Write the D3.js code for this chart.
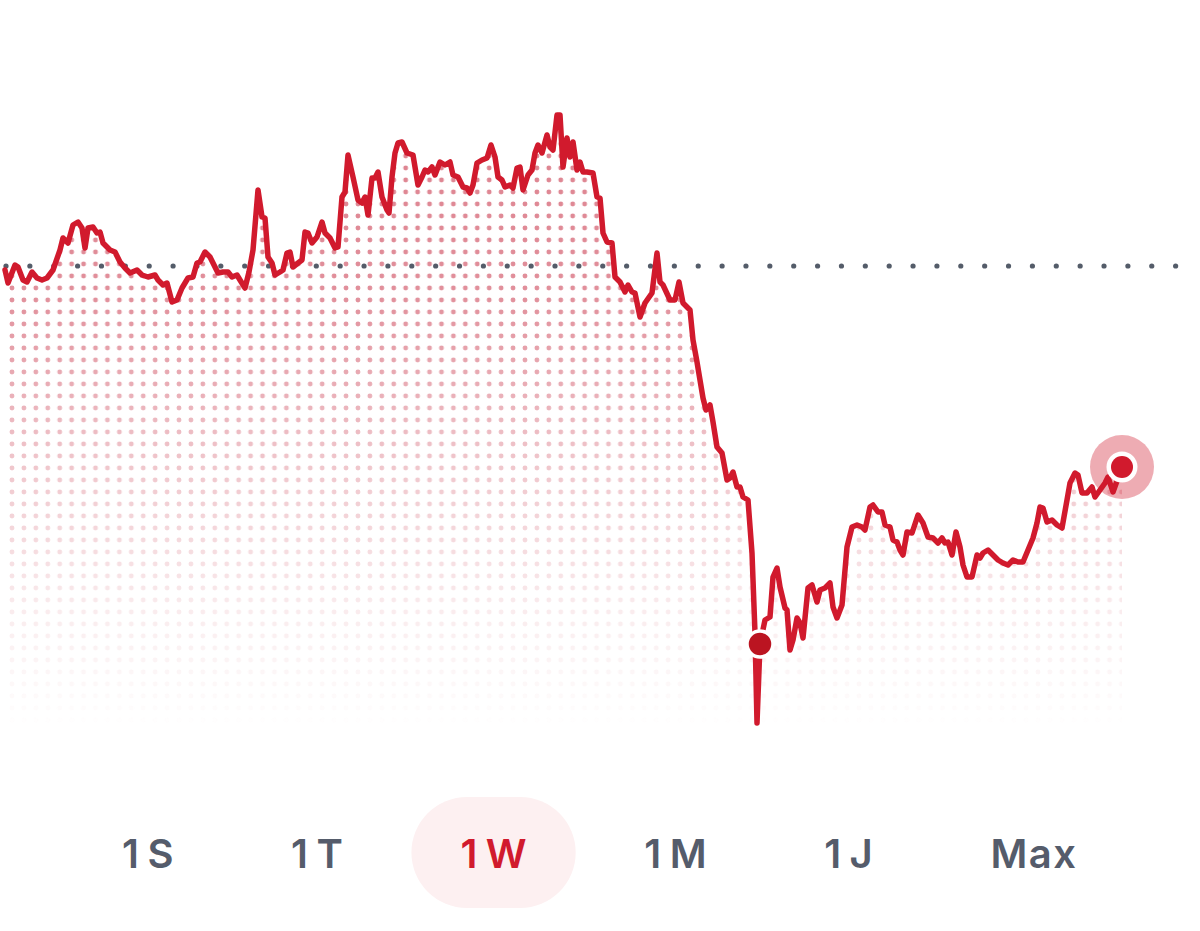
<!DOCTYPE html>
<html>
<head>
<meta charset="utf-8">
<script src="https://cdn.jsdelivr.net/npm/d3@7"></script>
<style>
  html, body { margin: 0; background: #fff; }
  svg { display: block; }
</style>
</head>
<body>
<svg id="chart" width="1200" height="931"></svg>
<script>
// price series: [time step, price]
const points = [
  [0,99.6],[3,98.3],[10,100.1],[13,99.9],[18,98.6],[22,98.4],[27,99.4],[32,98.8],[37,98.6],[42,98.8],
  [48,99.6],[55,101.6],[58,102.8],[63,102.3],[68,104.1],[73,104.4],[77,103.8],[80,101.8],[83,103.8],[88,103.9],
  [92,103.3],[95,103.4],[98,102.3],[105,101.6],[110,101.4],[115,100.4],[120,99.8],[125,99.3],[132,99.6],[137,99.1],
  [143,98.9],[150,99.1],[153,98.6],[158,98.1],[162,98.3],[167,96.4],[172,96.6],[177,97.8],[183,98.8],[188,98.9],
  [192,100.3],[195,100.4],[200,101.4],[205,100.9],[210,99.9],[213,99.3],[218,99.4],[223,99.4],[227,98.9],[232,99.1],
  [235,98.6],[240,97.8],[244,99.4],[248,101.6],[253,107.6],[257,104.9],[260,104.8],[263,100.9],[267,100.3],[270,99.1],
  [275,99.4],[278,99.6],[282,101.3],[285,101.4],[288,99.9],[293,100.3],[297,100.6],[300,103.4],[303,103.3],[307,102.3],
  [312,102.9],[317,104.4],[320,103.3],[325,102.8],[330,101.8],[333,101.9],[337,106.9],[340,107.4],[343,111.1],[348,108.9],
  [353,106.6],[357,106.3],[360,106.9],[363,105.1],[367,108.8],[370,108.8],[373,109.4],[377,106.9],[382,105.6],[384,105.3],
  [387,108.9],[390,111.3],[393,112.3],[397,112.4],[402,111.3],[408,111.1],[413,108.1],[417,108.9],[420,109.6],[423,109.4],
  [427,109.9],[430,109.1],[435,110.4],[440,110.1],[445,110.4],[448,109.1],[453,108.9],[458,107.9],[462,107.8],[465,107.3],
  [468,108.1],[472,110.3],[477,110.6],[482,110.8],[486,112.1],[490,110.9],[493,108.9],[497,108.6],[500,107.9],[505,108.1],
  [508,107.8],[512,109.8],[515,109.9],[518,107.6],[523,109.1],[527,109.6],[530,111.3],[533,112.1],[537,111.3],[542,113.1],
  [545,111.9],[548,111.6],[552,115.1],[555,115.1],[558,109.9],[562,112.8],[565,110.9],[568,112.4],[572,109.6],[575,110.4],
  [578,109.4],[582,109.4],[588,109.3],[592,106.9],[595,106.8],[598,103.3],[602,102.4],[607,102.3],[610,98.9],[615,98.4],
  [620,97.4],[623,98.1],[627,97.4],[630,97.3],[635,94.9],[640,96.3],[647,97.3],[652,101.3],[655,98.4],[658,98.1],
  [665,96.6],[670,96.6],[674,98.4],[678,96.3],[685,95.6],[688,92.6],[692,90.4],[695,88.6],[698,86.8],[701,85.6],
  [705,86.1],[708,84.4],[712,81.9],[717,81.3],[722,78.6],[725,78.8],[728,79.4],[732,77.9],[735,77.9],[738,76.9],
  [743,76.6],[747,71.3],[750,63.3],[752,54.3],[755,62.2],[760,64.6],[765,64.9],[768,68.9],[772,69.8],[775,67.9],
  [780,65.8],[782,65.6],[785,61.6],[788,62.6],[792,64.8],[795,64.3],[798,62.8],[803,67.8],[807,68.1],[812,66.4],
  [815,67.6],[820,67.8],[825,68.3],[828,65.9],[832,64.8],[837,66.1],[842,71.9],[847,73.9],[852,74.1],[857,73.9],
  [860,73.6],[865,75.9],[868,76.1],[873,75.4],[877,75.4],[880,74.1],[885,73.9],[888,72.6],[892,72.4],[895,71.6],
  [898,71.1],[902,73.4],[907,73.3],[913,75.1],[918,74.3],[923,72.9],[928,72.8],[933,72.3],[937,72.8],[940,72.3],
  [943,72.4],[947,71.1],[951,73.4],[955,71.9],[958,70.1],[962,68.9],[967,68.9],[972,71.1],[975,70.8],[978,71.3],
  [983,71.6],[988,71.1],[993,70.6],[998,70.3],[1003,70.1],[1008,70.6],[1013,70.4],[1018,70.4],[1023,71.6],[1028,72.8],
  [1032,74.3],[1035,75.9],[1038,75.8],[1042,74.4],[1047,74.6],[1052,74.1],[1057,73.8],[1062,76.6],[1065,78.3],[1070,79.3],
  [1073,79.1],[1077,77.3],[1082,77.3],[1087,77.9],[1090,76.9],[1095,77.6],[1100,78.3],[1103,78.9],[1108,77.4],[1117,79.9]
];
const previousClose = 100;
const markerTime = 755;              // highlighted trade point
const tabLabels = ["1S", "1T", "1W", "1M", "1J", "Max"];
const activeTab = "1W";

const red = "#d11a2d";
const svg = d3.select("#chart");

const x = d3.scaleLinear().domain([0, 1117]).range([5, 1122]);
const y = d3.scaleLinear().domain([40, 120]).range([866, 66]);
const bottomY = 730;

const defs = svg.append("defs");

// dot pattern for the area
const pat = defs.append("pattern")
  .attr("id", "dots")
  .attr("patternUnits", "userSpaceOnUse")
  .attr("x", 6.035).attr("y", -6)
  .attr("width", 11.93).attr("height", 12);
pat.append("circle")
  .attr("cx", 5.965).attr("cy", 6).attr("r", 2.45)
  .attr("fill", "#dd818e");

// fade out towards the bottom
const grad = defs.append("linearGradient")
  .attr("id", "fade")
  .attr("gradientUnits", "userSpaceOnUse")
  .attr("x1", 0).attr("x2", 0).attr("y1", 110).attr("y2", bottomY);
[[0, 1], [0.3, 0.88], [0.55, 0.48], [0.8, 0.16], [1, 0]].forEach(s => {
  grad.append("stop").attr("offset", s[0])
    .attr("stop-color", "#fff").attr("stop-opacity", s[1]);
});
defs.append("mask").attr("id", "fadeMask")
  .append("rect")
  .attr("x", 0).attr("y", 0).attr("width", 1200).attr("height", 931)
  .attr("fill", "url(#fade)");

const area = d3.area()
  .x(d => x(d[0]))
  .y0(bottomY)
  .y1(d => y(d[1]));

svg.append("path")
  .datum(points)
  .attr("d", area)
  .attr("fill", "url(#dots)")
  .attr("mask", "url(#fadeMask)");

// dotted previous close line
const refY = y(previousClose);
svg.append("g")
  .selectAll("circle")
  .data(d3.range(50))
  .join("circle")
  .attr("cx", i => 6 + i * 23.87)
  .attr("cy", refY)
  .attr("r", 2.6)
  .attr("fill", "#545c69");

// price line
const line = d3.line()
  .x(d => x(d[0]))
  .y(d => y(d[1]));

svg.append("path")
  .datum(points)
  .attr("d", line)
  .attr("fill", "none")
  .attr("stroke", red)
  .attr("stroke-width", 5.5)
  .attr("stroke-linejoin", "round")
  .attr("stroke-linecap", "round");

// trade marker
const mk = points.find(d => d[0] === markerTime);
svg.append("circle")
  .attr("cx", x(mk[0])).attr("cy", y(mk[1]))
  .attr("r", 13)
  .attr("fill", "#bb1421")
  .attr("stroke", "#fff").attr("stroke-width", 3.5);

// last price marker
const last = points[points.length - 1];
const lastG = svg.append("g")
  .attr("transform", `translate(${x(last[0])},${y(last[1])})`);
lastG.append("circle").attr("r", 32).attr("fill", red).attr("opacity", 0.36);
lastG.append("circle").attr("r", 15.5).attr("fill", "#fff");
lastG.append("circle").attr("r", 11).attr("fill", red);

// range tabs
const tabs = svg.append("g");
const pill = tabs.append("rect");
const labels = tabs.selectAll("text")
  .data(tabLabels)
  .join("text")
  .attr("y", 868)
  .attr("font-family", "Inter, 'Noto Sans', sans-serif")
  .attr("font-size", 40)
  .attr("font-weight", 600)
  .attr("letter-spacing", 1.5)
  .attr("fill", d => d === activeTab ? red : "#555c6b");

// the "1" gets a wider advance, as in the original typeface
labels.each(function(d) {
  const t = d3.select(this);
  if (d[0] === "1") {
    t.append("tspan").text("1");
    t.append("tspan").attr("dx", 7).text(d.slice(1));
  } else {
    t.text(d);
  }
});

const widths = [];
labels.each(function() { widths.push(this.getBBox().width - 1.5); });
const left = 122, right = 1076;
const gap = (right - left - d3.sum(widths)) / (widths.length - 1);
let cursor = left;
const starts = widths.map(w => { const s = cursor; cursor += w + gap; return s; });
labels.attr("x", (d, i) => starts[i]);

const ai = tabLabels.indexOf(activeTab);
const padX = 49;
pill
  .attr("x", starts[ai] - padX)
  .attr("y", 797)
  .attr("width", widths[ai] + padX * 2)
  .attr("height", 111)
  .attr("rx", 55.5)
  .attr("fill", "#fdf0f1");
</script>
</body>
</html>
